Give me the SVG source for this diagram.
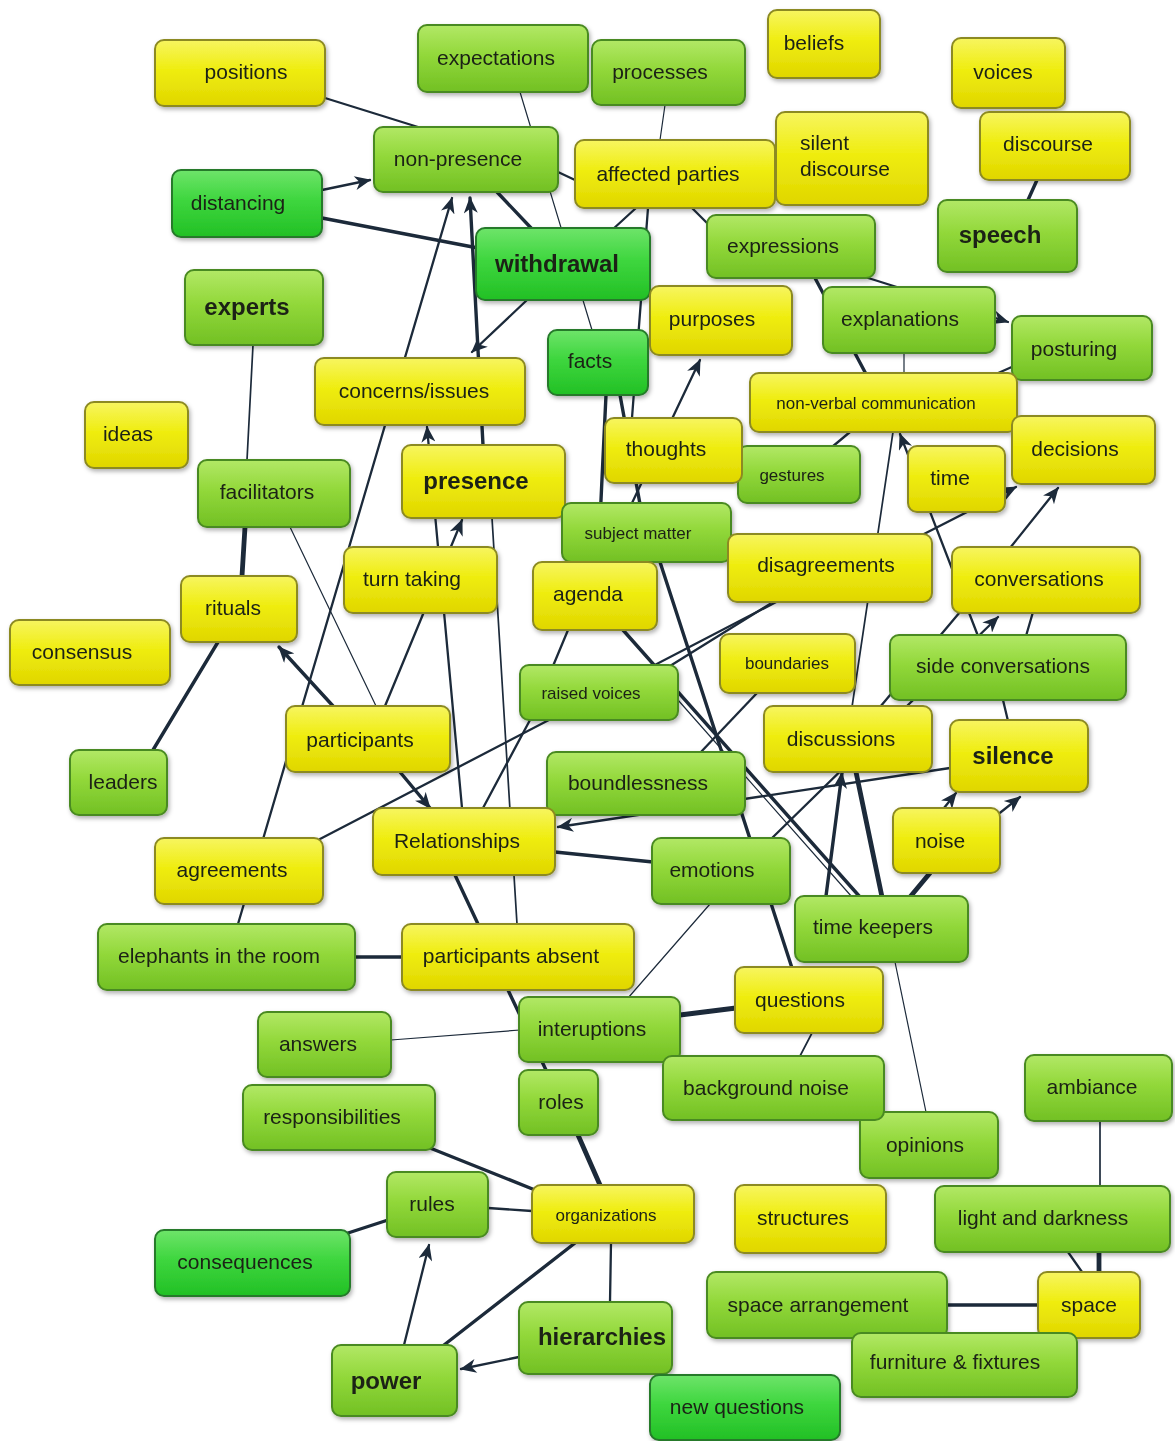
<svg xmlns="http://www.w3.org/2000/svg" width="1175" height="1441" viewBox="0 0 1175 1441">
<style>
  .y rect { fill: url(#gy); stroke: #8c8a22; stroke-width: 2; }
  .g rect { fill: url(#gg); stroke: #4a8a20; stroke-width: 2; }
  .b rect { fill: url(#gb); stroke: #257a2a; stroke-width: 2; }
  text { font-family: "Liberation Sans", Arial, sans-serif; font-size: 21px; fill: #1a2016; text-anchor: middle; dominant-baseline: central; }
  .s text { font-size: 17px; }
  .L text { font-size: 24px; font-weight: bold; }
  #edges line { stroke: #1c2a3a; fill: none; stroke-linecap: round; }
  .w1 { stroke-width: 1.2; }
  .w15 { stroke-width: 1.7; }
  .w2 { stroke-width: 2.3; }
  .w3 { stroke-width: 3.4; }
  .w4 { stroke-width: 4.8; }
  .a { marker-end: url(#ah); }
</style>
<defs>
  <linearGradient id="gy" x1="0" y1="0" x2="0" y2="1">
    <stop offset="0" stop-color="#f7f560"/>
    <stop offset="0.45" stop-color="#efed10"/>
    <stop offset="1" stop-color="#e0d600"/>
  </linearGradient>
  <linearGradient id="gg" x1="0" y1="0" x2="0" y2="1">
    <stop offset="0" stop-color="#b2e866"/>
    <stop offset="0.45" stop-color="#92d83a"/>
    <stop offset="1" stop-color="#72c024"/>
  </linearGradient>
  <linearGradient id="gb" x1="0" y1="0" x2="0" y2="1">
    <stop offset="0" stop-color="#6ee46a"/>
    <stop offset="0.45" stop-color="#3ed63e"/>
    <stop offset="1" stop-color="#22c025"/>
  </linearGradient>
  <filter id="sh" x="-5%" y="-5%" width="110%" height="115%">
    <feDropShadow dx="1.5" dy="2.5" stdDeviation="2" flood-color="#000" flood-opacity="0.3"/>
  </filter>
  <marker id="ah" viewBox="0 0 14 12" refX="13" refY="6" markerWidth="18" markerHeight="14" markerUnits="userSpaceOnUse" orient="auto">
    <path d="M0,0 L14,6 L0,12 L4,6 z" fill="#1c2a3a"/>
  </marker>
</defs>
<rect width="1175" height="1441" fill="#ffffff"/>

<!-- connectors -->
<g id="edges">
  <line class="w2" x1="325" y1="98" x2="418" y2="127"/>
  <line class="w2 a" x1="322" y1="190" x2="370" y2="180"/>
  <line class="w3" x1="322" y1="218" x2="478" y2="248"/>
  <line class="w1" x1="520" y1="92" x2="592" y2="330"/>
  <line class="w3" x1="497" y1="192" x2="532" y2="229"/>
  <line class="w2 a" x1="238" y1="924" x2="452" y2="198"/>
  <line class="w3 a" x1="483" y1="445" x2="470" y2="198"/>
  <line class="w2 a" x1="527" y1="300" x2="472" y2="352"/>
  <line class="w1" x1="665" y1="105" x2="660" y2="140"/>
  <line class="w2" x1="558" y1="172" x2="575" y2="180"/>
  <line class="w2" x1="636" y1="208" x2="612" y2="230"/>
  <line class="w2" x1="648" y1="208" x2="632" y2="418"/>
  <line class="w2" x1="690" y1="206" x2="708" y2="224"/>
  <line class="w2 a" x1="865" y1="277" x2="1008" y2="322"/>
  <line class="w3" x1="815" y1="278" x2="866" y2="374"/>
  <line class="w1" x1="904" y1="353" x2="904" y2="373"/>
  <line class="w2" x1="1014" y1="366" x2="996" y2="374"/>
  <line class="w2 a" x1="632" y1="503" x2="700" y2="360"/>
  <line class="w2" x1="850" y1="432" x2="832" y2="447"/>
  <line class="w2 a" x1="978" y1="636" x2="900" y2="434"/>
  <line class="w15" x1="893" y1="432" x2="852" y2="707"/>
  <line class="w2 a" x1="922" y1="535" x2="1016" y2="487"/>
  <line class="w2 a" x1="1010" y1="548" x2="1058" y2="488"/>
  <line class="w2" x1="880" y1="707" x2="960" y2="612"/>
  <line class="w2" x1="1026" y1="636" x2="1033" y2="612"/>
  <line class="w2 a" x1="770" y1="840" x2="998" y2="617"/>
  <line class="w2" x1="1003" y1="700" x2="1008" y2="721"/>
  <line class="w3" x1="606" y1="395" x2="598" y2="563"/>
  <line class="w3" x1="620" y1="395" x2="640" y2="504"/>
  <line class="w2" x1="568" y1="630" x2="553" y2="666"/>
  <line class="w3" x1="623" y1="630" x2="860" y2="897"/>
  <line class="w2" x1="320" y1="839" x2="780" y2="600"/>
  <line class="w2" x1="670" y1="666" x2="770" y2="604"/>
  <line class="w3" x1="660" y1="562" x2="792" y2="968"/>
  <line class="w1" x1="678" y1="700" x2="852" y2="897"/>
  <line class="w2" x1="757" y1="693" x2="700" y2="753"/>
  <line class="w2 a" x1="950" y1="768" x2="558" y2="827"/>
  <line class="w3 a" x1="826" y1="896" x2="842" y2="773"/>
  <line class="w4" x1="856" y1="772" x2="882" y2="897"/>
  <line class="w4" x1="910" y1="897" x2="930" y2="873"/>
  <line class="w2 a" x1="944" y1="808" x2="956" y2="793"/>
  <line class="w2 a" x1="996" y1="816" x2="1020" y2="797"/>
  <line class="w1" x1="895" y1="962" x2="926" y2="1112"/>
  <line class="w1" x1="710" y1="904" x2="628" y2="998"/>
  <line class="w4" x1="680" y1="1015" x2="736" y2="1008"/>
  <line class="w1" x1="391" y1="1040" x2="520" y2="1030"/>
  <line class="w15" x1="812" y1="1033" x2="800" y2="1056"/>
  <line class="w3" x1="555" y1="852" x2="653" y2="862"/>
  <line class="w3 a" x1="400" y1="772" x2="430" y2="808"/>
  <line class="w2 a" x1="462" y1="808" x2="427" y2="427"/>
  <line class="w2 a" x1="385" y1="706" x2="462" y2="520"/>
  <line class="w15" x1="492" y1="518" x2="517" y2="924"/>
  <line class="w3 a" x1="333" y1="706" x2="279" y2="647"/>
  <line class="w1" x1="290" y1="527" x2="376" y2="706"/>
  <line class="w15" x1="253" y1="345" x2="247" y2="460"/>
  <line class="w4" x1="245" y1="527" x2="242" y2="576"/>
  <line class="w3" x1="218" y1="642" x2="153" y2="750"/>
  <line class="w2" x1="530" y1="720" x2="483" y2="808"/>
  <line class="w3" x1="455" y1="875" x2="478" y2="924"/>
  <line class="w3" x1="355" y1="957" x2="402" y2="957"/>
  <line class="w3" x1="508" y1="990" x2="546" y2="1070"/>
  <line class="w4" x1="578" y1="1135" x2="600" y2="1185"/>
  <line class="w3" x1="430" y1="1148" x2="535" y2="1190"/>
  <line class="w2" x1="488" y1="1208" x2="532" y2="1211"/>
  <line class="w3" x1="348" y1="1233" x2="388" y2="1220"/>
  <line class="w2 a" x1="404" y1="1345" x2="429" y2="1245"/>
  <line class="w3" x1="444" y1="1345" x2="575" y2="1243"/>
  <line class="w2 a" x1="519" y1="1357" x2="461" y2="1369"/>
  <line class="w2" x1="611" y1="1243" x2="610" y2="1302"/>
  <line class="w3" x1="1037" y1="180" x2="1028" y2="200"/>
  <line class="w15" x1="1100" y1="1121" x2="1100" y2="1186"/>
  <line class="w2" x1="1068" y1="1252" x2="1082" y2="1272"/>
  <line class="w4" x1="1099" y1="1252" x2="1099" y2="1272"/>
  <line class="w3" x1="947" y1="1305" x2="1038" y2="1305"/>
</g>

<!-- concept nodes -->
<g id="nodes" filter="url(#sh)">
  <g id="n-positions" class="y"><rect x="155" y="40" width="170" height="66" rx="9"/><text x="246" y="71">positions</text></g>
  <g id="n-expectations" class="g"><rect x="418" y="25" width="170" height="67" rx="9"/><text x="496" y="57">expectations</text></g>
  <g id="n-processes" class="g"><rect x="592" y="40" width="153" height="65" rx="9"/><text x="660" y="71">processes</text></g>
  <g id="n-beliefs" class="y"><rect x="768" y="10" width="112" height="68" rx="9"/><text x="814" y="42">beliefs</text></g>
  <g id="n-voices" class="y"><rect x="952" y="38" width="113" height="70" rx="9"/><text x="1003" y="71">voices</text></g>
  <g id="n-non-presence" class="g"><rect x="374" y="127" width="184" height="65" rx="9"/><text x="458" y="158">non-presence</text></g>
  <g id="n-affected-parties" class="y"><rect x="575" y="140" width="200" height="68" rx="9"/><text x="668" y="173">affected parties</text></g>
  <g id="n-silent-discourse" class="y"><rect x="776" y="112" width="152" height="93" rx="9"/><text x="800" y="142" style="text-anchor:start">silent</text><text x="800" y="168" style="text-anchor:start">discourse</text></g>
  <g id="n-discourse" class="y"><rect x="980" y="112" width="150" height="68" rx="9"/><text x="1048" y="143">discourse</text></g>
  <g id="n-distancing" class="b"><rect x="172" y="170" width="150" height="67" rx="9"/><text x="238" y="202">distancing</text></g>
  <g id="n-withdrawal" class="b L"><rect x="476" y="228" width="174" height="72" rx="9"/><text x="557" y="263">withdrawal</text></g>
  <g id="n-expressions" class="g"><rect x="707" y="215" width="168" height="63" rx="9"/><text x="783" y="245">expressions</text></g>
  <g id="n-speech" class="g L"><rect x="938" y="200" width="139" height="72" rx="9"/><text x="1000" y="234">speech</text></g>
  <g id="n-experts" class="g L"><rect x="185" y="270" width="138" height="75" rx="9"/><text x="247" y="306">experts</text></g>
  <g id="n-purposes" class="y"><rect x="650" y="286" width="142" height="69" rx="9"/><text x="712" y="318">purposes</text></g>
  <g id="n-explanations" class="g"><rect x="823" y="287" width="172" height="66" rx="9"/><text x="900" y="318">explanations</text></g>
  <g id="n-posturing" class="g"><rect x="1012" y="316" width="140" height="64" rx="9"/><text x="1074" y="348">posturing</text></g>
  <g id="n-facts" class="b"><rect x="548" y="330" width="100" height="65" rx="9"/><text x="590" y="360">facts</text></g>
  <g id="n-concerns-issues" class="y"><rect x="315" y="358" width="210" height="67" rx="9"/><text x="414" y="390">concerns/issues</text></g>
  <g id="n-non-verbal-communication" class="y s"><rect x="750" y="373" width="267" height="59" rx="9"/><text x="876" y="403">non-verbal communication</text></g>
  <g id="n-ideas" class="y"><rect x="85" y="402" width="103" height="66" rx="9"/><text x="128" y="433">ideas</text></g>
  <g id="n-gestures" class="g s"><rect x="738" y="446" width="122" height="57" rx="9"/><text x="792" y="475">gestures</text></g>
  <g id="n-thoughts" class="y"><rect x="605" y="418" width="137" height="65" rx="9"/><text x="666" y="448">thoughts</text></g>
  <g id="n-time" class="y"><rect x="908" y="446" width="97" height="66" rx="9"/><text x="950" y="477">time</text></g>
  <g id="n-decisions" class="y"><rect x="1012" y="416" width="143" height="68" rx="9"/><text x="1075" y="448">decisions</text></g>
  <g id="n-facilitators" class="g"><rect x="198" y="460" width="152" height="67" rx="9"/><text x="267" y="491">facilitators</text></g>
  <g id="n-presence" class="y L"><rect x="402" y="445" width="163" height="73" rx="9"/><text x="476" y="480">presence</text></g>
  <g id="n-subject-matter" class="g s"><rect x="562" y="503" width="169" height="59" rx="9"/><text x="638" y="533">subject matter</text></g>
  <g id="n-disagreements" class="y"><rect x="728" y="534" width="204" height="68" rx="9"/><text x="826" y="564">disagreements</text></g>
  <g id="n-conversations" class="y"><rect x="952" y="547" width="188" height="66" rx="9"/><text x="1039" y="578">conversations</text></g>
  <g id="n-turn-taking" class="y"><rect x="344" y="547" width="153" height="66" rx="9"/><text x="412" y="578">turn taking</text></g>
  <g id="n-agenda" class="y"><rect x="533" y="562" width="124" height="68" rx="9"/><text x="588" y="593">agenda</text></g>
  <g id="n-rituals" class="y"><rect x="181" y="576" width="116" height="66" rx="9"/><text x="233" y="607">rituals</text></g>
  <g id="n-consensus" class="y"><rect x="10" y="620" width="160" height="65" rx="9"/><text x="82" y="651">consensus</text></g>
  <g id="n-boundaries" class="y s"><rect x="720" y="634" width="135" height="59" rx="9"/><text x="787" y="663">boundaries</text></g>
  <g id="n-side-conversations" class="g"><rect x="890" y="635" width="236" height="65" rx="9"/><text x="1003" y="665">side conversations</text></g>
  <g id="n-raised-voices" class="g s"><rect x="520" y="665" width="158" height="55" rx="9"/><text x="591" y="693">raised voices</text></g>
  <g id="n-participants" class="y"><rect x="286" y="706" width="164" height="66" rx="9"/><text x="360" y="739">participants</text></g>
  <g id="n-discussions" class="y"><rect x="764" y="706" width="168" height="66" rx="9"/><text x="841" y="738">discussions</text></g>
  <g id="n-silence" class="y L"><rect x="950" y="720" width="138" height="72" rx="9"/><text x="1013" y="755">silence</text></g>
  <g id="n-leaders" class="g"><rect x="70" y="750" width="97" height="65" rx="9"/><text x="123" y="781">leaders</text></g>
  <g id="n-boundlessness" class="g"><rect x="547" y="752" width="198" height="63" rx="9"/><text x="638" y="782">boundlessness</text></g>
  <g id="n-relationships" class="y"><rect x="373" y="808" width="182" height="67" rx="9"/><text x="457" y="840">Relationships</text></g>
  <g id="n-noise" class="y"><rect x="893" y="808" width="107" height="65" rx="9"/><text x="940" y="840">noise</text></g>
  <g id="n-agreements" class="y"><rect x="155" y="838" width="168" height="66" rx="9"/><text x="232" y="869">agreements</text></g>
  <g id="n-emotions" class="g"><rect x="652" y="838" width="138" height="66" rx="9"/><text x="712" y="869">emotions</text></g>
  <g id="n-time-keepers" class="g"><rect x="795" y="896" width="173" height="66" rx="9"/><text x="873" y="926">time keepers</text></g>
  <g id="n-elephants" class="g"><rect x="98" y="924" width="257" height="66" rx="9"/><text x="219" y="955">elephants in the room</text></g>
  <g id="n-participants-absent" class="y"><rect x="402" y="924" width="232" height="66" rx="9"/><text x="511" y="955">participants absent</text></g>
  <g id="n-questions" class="y"><rect x="735" y="967" width="148" height="66" rx="9"/><text x="800" y="999">questions</text></g>
  <g id="n-answers" class="g"><rect x="258" y="1012" width="133" height="65" rx="9"/><text x="318" y="1043">answers</text></g>
  <g id="n-interuptions" class="g"><rect x="519" y="997" width="161" height="65" rx="9"/><text x="592" y="1028">interuptions</text></g>
  <g id="n-opinions" class="g"><rect x="860" y="1112" width="138" height="66" rx="9"/><text x="925" y="1144">opinions</text></g>
  <g id="n-background-noise" class="g"><rect x="663" y="1056" width="221" height="64" rx="9"/><text x="766" y="1087">background noise</text></g>
  <g id="n-ambiance" class="g"><rect x="1025" y="1055" width="147" height="66" rx="9"/><text x="1092" y="1086">ambiance</text></g>
  <g id="n-roles" class="g"><rect x="519" y="1070" width="79" height="65" rx="9"/><text x="561" y="1101">roles</text></g>
  <g id="n-responsibilities" class="g"><rect x="243" y="1085" width="192" height="65" rx="9"/><text x="332" y="1116">responsibilities</text></g>
  <g id="n-rules" class="g"><rect x="387" y="1172" width="101" height="65" rx="9"/><text x="432" y="1203">rules</text></g>
  <g id="n-organizations" class="y s"><rect x="532" y="1185" width="162" height="58" rx="9"/><text x="606" y="1215">organizations</text></g>
  <g id="n-structures" class="y"><rect x="735" y="1185" width="151" height="68" rx="9"/><text x="803" y="1217">structures</text></g>
  <g id="n-light-and-darkness" class="g"><rect x="935" y="1186" width="235" height="66" rx="9"/><text x="1043" y="1217">light and darkness</text></g>
  <g id="n-consequences" class="b"><rect x="155" y="1230" width="195" height="66" rx="9"/><text x="245" y="1261">consequences</text></g>
  <g id="n-space-arrangement" class="g"><rect x="707" y="1272" width="240" height="66" rx="9"/><text x="818" y="1304">space arrangement</text></g>
  <g id="n-space" class="y"><rect x="1038" y="1272" width="102" height="66" rx="9"/><text x="1089" y="1304">space</text></g>
  <g id="n-hierarchies" class="g L"><rect x="519" y="1302" width="153" height="72" rx="9"/><text x="602" y="1336">hierarchies</text></g>
  <g id="n-furniture-fixtures" class="g"><rect x="852" y="1333" width="225" height="64" rx="9"/><text x="955" y="1361">furniture &amp; fixtures</text></g>
  <g id="n-power" class="g L"><rect x="332" y="1345" width="125" height="71" rx="9"/><text x="386" y="1380">power</text></g>
  <g id="n-new-questions" class="b"><rect x="650" y="1375" width="190" height="65" rx="9"/><text x="737" y="1406">new questions</text></g>
</g>
</svg>
